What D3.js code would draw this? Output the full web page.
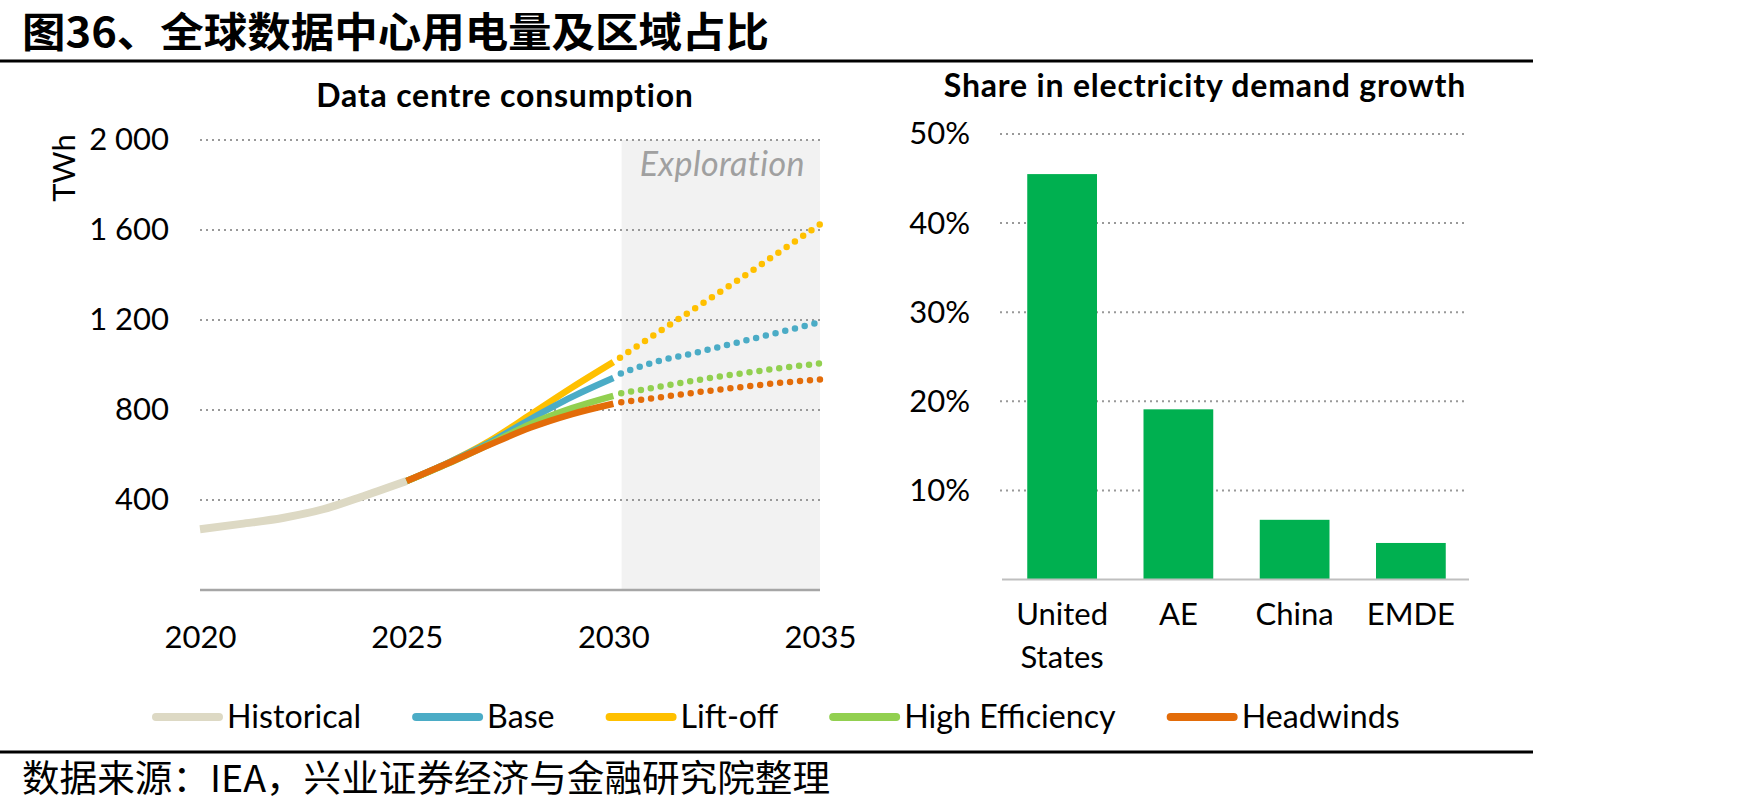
<!DOCTYPE html>
<html>
  <head>
    <meta charset="utf-8">
    <title>全球数据中心用电量及区域占比</title>
    <script src="https://cdn.jsdelivr.net/npm/d3@7/dist/d3.min.js"></script>
    <style>
      body { margin: 0; background: #fff; }
      svg { display: block; font-family: Lato, "Open Sans", sans-serif; }
      .cjk { font-family: "Noto Sans CJK SC", sans-serif; }
      .grid line { stroke: #999; stroke-width: 2; stroke-dasharray: 2 4; }
    </style>
  </head>

  <body>
    <svg id="chart" width="1748" height="812"></svg>

    <script>
      // data
      const years = [2020, 2021, 2022, 2023, 2024, 2025, 2026, 2027, 2028, 2029, 2030, 2031, 2032, 2033, 2034, 2035];
      const historical = [270, 294, 320, 360, 420, 484];
      const baseSolid = [484, 565, 655, 760, 858, 942];
      const liftOffSolid = [484, 565, 662, 780, 900, 1013];
      const highEffSolid = [484, 562, 648, 738, 808, 863];
      const headwindsSolid = [484, 563, 645, 722, 782, 828];
      const baseDotted = [950, 1013, 1055, 1100, 1145, 1190];
      const liftOffDotted = [1013, 1135, 1255, 1375, 1500, 1625];
      const highEffDotted = [868, 900, 932, 960, 985, 1007];
      const headwindsDotted = [830, 853, 878, 900, 920, 936];
      const twhTicks = [400, 800, 1200, 1600, 2000];
      const yearTicks = [2020, 2025, 2030, 2035];
      const exploration = [2030.2, 2035];

      const regions = ["United States", "AE", "China", "EMDE"];
      const shares = [45.5, 19.1, 6.7, 4.1];
      const shareTicks = [10, 20, 30, 40, 50];

      const seriesNames = ["Historical", "Base", "Lift-off", "High Efficiency", "Headwinds"];
      const seriesColours = ["#ddd9c4", "#4bacc6", "#ffc000", "#92d050", "#e36c09"];

      const svg = d3.select("#chart");

      // header and footer
      svg.append("text")
        .attr("class", "cjk")
        .attr("x", 22).attr("y", 47)
        .attr("textLength", 747).attr("lengthAdjust", "spacingAndGlyphs")
        .style("font-size", "41px").style("font-weight", 700)
        .text("图36、全球数据中心用电量及区域占比");
      svg.append("line")
        .attr("x1", 0).attr("x2", 1533).attr("y1", 61).attr("y2", 61)
        .style("stroke", "#000").style("stroke-width", 3);
      svg.append("line")
        .attr("x1", 0).attr("x2", 1533).attr("y1", 752).attr("y2", 752)
        .style("stroke", "#000").style("stroke-width", 3);
      svg.append("text")
        .attr("class", "cjk")
        .attr("x", 22).attr("y", 792)
        .attr("textLength", 808).attr("lengthAdjust", "spacingAndGlyphs")
        .style("font-size", "37px")
        .text("数据来源：IEA，兴业证券经济与金融研究院整理");

      // left chart: data centre consumption
      const x = d3.scaleLinear().domain([2020, 2035]).range([200, 820]);
      const y = d3.scaleLinear().domain([0, 2000]).range([590, 140]);

      const left = svg.append("g");

      left.append("rect")
        .attr("x", x(exploration[0]))
        .attr("y", y(2000))
        .attr("width", x(exploration[1]) - x(exploration[0]))
        .attr("height", y(0) - y(2000))
        .style("fill", "#f2f2f2");
      left.append("text")
        .attr("x", x(exploration[1]) - 15).attr("y", 176)
        .attr("text-anchor", "end")
        .style("font-size", "34px").style("font-style", "italic").style("fill", "#a0a0a0")
        .style("letter-spacing", "0.4px")
        .text("Exploration");

      left.append("g").attr("class", "grid")
        .selectAll("line")
        .data(twhTicks)
        .enter().append("line")
          .attr("x1", x(2020)).attr("x2", x(2035))
          .attr("y1", function(d) { return y(d); })
          .attr("y2", function(d) { return y(d); });

      left.append("line")
        .attr("x1", x(2020)).attr("x2", x(2035))
        .attr("y1", y(0)).attr("y2", y(0))
        .style("stroke", "#a6a6a6").style("stroke-width", 2.5);

      const yAxisLeft = d3.axisLeft(y)
        .tickValues(twhTicks)
        .tickSize(0).tickPadding(31)
        .tickFormat(function(d) { return d3.format(",")(d).replace(",", " "); });
      left.append("g")
        .attr("transform", "translate(" + x(2020) + ",0)")
        .call(yAxisLeft)
        .call(function(g) { g.select(".domain").remove(); })
        .selectAll("text")
          .style("font-family", "Lato").style("font-size", "31px").style("fill", "#000");

      const xAxisLeft = d3.axisBottom(x)
        .tickValues(yearTicks)
        .tickSize(0).tickPadding(36)
        .tickFormat(d3.format("d"));
      left.append("g")
        .attr("transform", "translate(0," + y(0) + ")")
        .call(xAxisLeft)
        .call(function(g) { g.select(".domain").remove(); })
        .selectAll("text")
          .style("font-family", "Lato").style("font-size", "31px").style("fill", "#000");

      left.append("text")
        .attr("transform", "translate(75,168) rotate(-90)")
        .attr("text-anchor", "middle")
        .style("font-size", "31px")
        .text("TWh");

      const line = d3.line()
        .x(function(d) { return x(d[0]); })
        .y(function(d) { return y(d[1]); })
        .curve(d3.curveMonotoneX);

      function pairs(values, startYear) {
        return values.map(function(v, i) { return [startYear + i, v]; });
      }

      const dotted = [baseDotted, liftOffDotted, highEffDotted, headwindsDotted];
      const solid = [baseSolid, liftOffSolid, highEffSolid, headwindsSolid];

      dotted.forEach(function(values, i) {
        left.append("path")
          .datum(pairs(values, 2030))
          .attr("d", line)
          .style("fill", "none")
          .style("stroke", seriesColours[i + 1])
          .style("stroke-width", 6.5)
          .style("stroke-linecap", "round")
          .style("stroke-dasharray", "0 10")
          .style("stroke-dashoffset", -8);
      });

      left.append("path")
        .datum(pairs(historical, 2020))
        .attr("d", line)
        .style("fill", "none")
        .style("stroke", seriesColours[0])
        .style("stroke-width", 8);

      // draw order: lift-off, base, high efficiency, headwinds on top
      [1, 0, 2, 3].forEach(function(i) {
        left.append("path")
          .datum(pairs(solid[i], 2025))
          .attr("d", line)
          .style("fill", "none")
          .style("stroke", seriesColours[i + 1])
          .style("stroke-width", 6.5);
      });

      left.append("text")
        .attr("x", 505).attr("y", 107)
        .attr("text-anchor", "middle")
        .style("font-size", "32px").style("font-weight", 700)
        .style("letter-spacing", "0.8px")
        .text("Data centre consumption");

      // right chart: share in electricity demand growth
      const xb = d3.scaleBand().domain(regions).range([1004, 1469])
        .paddingInner(0.4).paddingOuter(0.2);
      const yb = d3.scaleLinear().domain([0, 50]).range([579.5, 134]);

      const right = svg.append("g");

      right.append("g").attr("class", "grid")
        .selectAll("line")
        .data(shareTicks)
        .enter().append("line")
          .attr("x1", 1000).attr("x2", 1466)
          .attr("y1", function(d) { return yb(d); })
          .attr("y2", function(d) { return yb(d); });

      right.selectAll(".bar")
        .data(shares)
        .enter().append("rect")
          .classed("bar", true)
          .attr("x", function(d, i) { return xb(regions[i]); })
          .attr("width", xb.bandwidth())
          .attr("y", function(d) { return yb(d); })
          .attr("height", function(d) { return yb(0) - yb(d); })
          .style("fill", "#00b050");

      right.append("line")
        .attr("x1", 1002).attr("x2", 1469)
        .attr("y1", yb(0)).attr("y2", yb(0))
        .style("stroke", "#bfbfbf").style("stroke-width", 2);

      const yAxisRight = d3.axisLeft(yb)
        .tickValues(shareTicks)
        .tickSize(0).tickPadding(30)
        .tickFormat(function(d) { return d + "%"; });
      right.append("g")
        .attr("transform", "translate(1000,0)")
        .call(yAxisRight)
        .call(function(g) { g.select(".domain").remove(); })
        .selectAll("text")
          .style("font-family", "Lato").style("font-size", "31px").style("fill", "#000");

      const catLabels = right.selectAll(".cat")
        .data(regions)
        .enter().append("text")
          .classed("cat", true)
          .attr("text-anchor", "middle")
          .style("font-size", "31px");
      catLabels.each(function(d) {
        const words = d.split(" ");
        const t = d3.select(this);
        words.forEach(function(w, i) {
          t.append("tspan")
            .attr("x", xb(d) + xb.bandwidth() / 2)
            .attr("y", 625 + i * 43)
            .text(w);
        });
      });

      right.append("text")
        .attr("x", 1205).attr("y", 97)
        .attr("text-anchor", "middle")
        .style("font-size", "32px").style("font-weight", 700)
        .style("letter-spacing", "0.8px")
        .text("Share in electricity demand growth");

      // legend
      const legend = svg.append("g").attr("transform", "translate(152,717)");
      let cursor = 0;
      seriesNames.forEach(function(name, i) {
        const item = legend.append("g").attr("transform", "translate(" + cursor + ",0)");
        item.append("line")
          .attr("x1", 4).attr("x2", 67)
          .style("stroke", seriesColours[i])
          .style("stroke-width", 8)
          .style("stroke-linecap", "round");
        const label = item.append("text")
          .attr("x", 75).attr("y", 11)
          .style("font-size", "32.2px")
          .text(name);
        cursor += 75 + label.node().getComputedTextLength() + 51;
      });
    </script>
  </body>
</html>
